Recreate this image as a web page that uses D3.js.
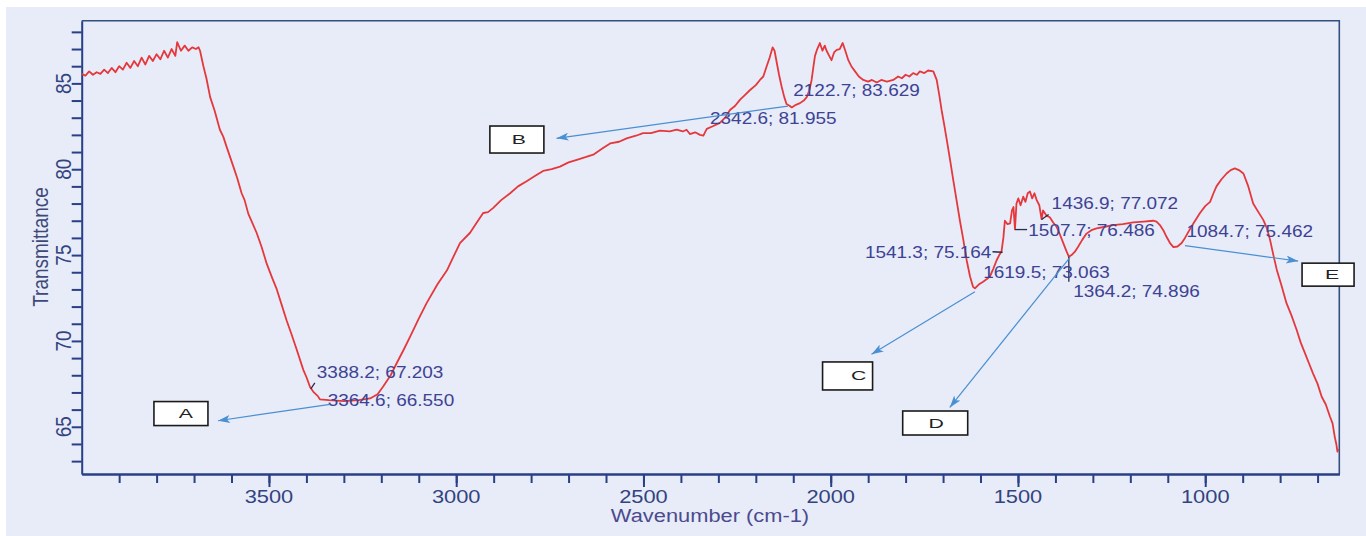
<!DOCTYPE html>
<html>
<head>
<meta charset="utf-8">
<script src="https://cdn.jsdelivr.net/npm/d3@7"></script>
<style>
  html, body { margin: 0; padding: 0; background: #ffffff; }
  svg { display: block; }
  text { font-family: "Liberation Sans", Arial, sans-serif; }
</style>
</head>
<body>
<svg id="chart" width="1366" height="536"></svg>
<script>
// ---------------- DATA ----------------
const wavenumber = [
  4000,3990,3980,3970,3960,3950,3940,3930,3920,3910,3900,3890,3880,3870,3860,3850,3840,3830,3820,3810,
  3800,3790,3780,3770,3760,3750,3745,3735,3725,3715,3705,3695,3688,3684,3675,3667,3657,3645,3631,3622,
  3613,3595,3585,3573,3565,3555,3545,3533,3520,3506,3492,3479,3466,3453,3440,3426,3408,3400,3390,3380,
  3370,3364,3340,3300,3260,3230,3210,3195,3175,3159,3140,3123,3100,3079,3050,3025,2990,2963,2945,2928,
  2915,2901,2880,2856,2835,2812,2790,2768,2745,2723,2700,2678,2655,2634,2610,2589,2565,2545,2520,2501,
  2480,2456,2430,2411,2395,2385,2376,2362,2349,2340,2331,2315,2296,2282,2269,2255,2242,2230,2216,2200,
  2189,2180,2171,2163,2155,2150,2144,2138,2131,2124,2118,2110,2104,2093,2082,2072,2064,2057,2051,2046,
  2042,2036,2029,2022,2016,2011,2004,1998,1991,1984,1976,1968,1961,1953,1945,1935,1925,1913,1900,1890,
  1877,1865,1850,1833,1820,1810,1800,1790,1780,1770,1762,1750,1740,1726,1717,1710,1704,1697,1690,1681,
  1673,1664,1655,1646,1637,1628,1620,1615,1604,1593,1583,1575,1566,1557,1550,1544,1539,1535,1528,1521,
  1516,1512,1508,1504,1499,1493,1486,1480,1474,1468,1462,1456,1450,1443,1437,1433,1424,1415,1406,1397,
  1388,1379,1370,1364,1357,1348,1339,1328,1317,1304,1290,1268,1246,1220,1192,1165,1139,1130,1121,1112,
  1103,1094,1085,1074,1063,1054,1045,1030,1014,1000,987,978,970,957,943,932,921,910,898,885,
  872,858,845,836,827,818,809,796,783,770,756,745,734,723,712,700,689,678,667,660,
  654,650,647,645
];
const transmittance = [
  85.55,85.45,85.7,85.5,85.65,85.55,85.8,85.6,85.9,85.65,86.0,85.8,86.2,85.9,86.3,86.0,86.5,86.1,86.6,86.3,
  86.7,86.4,86.9,86.5,87.0,86.6,87.4,86.9,87.2,86.9,87.1,87.0,87.1,86.9,86.0,85.3,84.2,83.4,82.3,81.9,
  81.3,80.15,79.5,78.6,78.2,77.4,76.9,76.3,75.5,74.5,73.7,73.0,72.1,71.2,70.4,69.5,68.3,67.9,67.3,67.0,
  66.8,66.6,66.55,66.5,66.55,66.65,66.9,67.35,68.0,68.7,69.5,70.25,71.3,72.2,73.3,74.1,75.7,76.3,76.9,77.45,
  77.5,77.75,78.2,78.6,79.0,79.3,79.6,79.9,80.0,80.15,80.4,80.55,80.7,80.85,81.2,81.5,81.6,81.8,81.95,82.1,
  82.1,82.25,82.2,82.3,82.2,82.3,82.05,82.15,82.0,81.96,82.35,82.5,82.7,83.0,83.45,83.7,84.05,84.3,84.6,84.9,
  85.2,85.4,86.0,86.5,87.1,86.9,86.2,85.5,84.8,84.2,83.8,83.7,83.6,83.75,83.85,84.0,84.2,84.6,85.2,86.0,
  86.6,87.0,87.35,86.9,87.2,86.9,86.6,86.35,86.8,86.95,87.0,87.35,86.9,86.35,86.0,85.7,85.4,85.2,85.1,85.2,
  85.05,85.2,85.1,85.2,85.4,85.3,85.5,85.4,85.6,85.5,85.7,85.6,85.75,85.7,85.2,84.3,83.45,82.6,81.7,80.5,
  79.4,78.2,77.0,75.9,74.7,73.75,73.15,73.06,73.3,73.45,73.6,73.75,74.2,74.7,75.0,75.2,76.0,77.0,76.8,76.85,
  77.6,77.8,76.5,78.0,78.3,77.9,78.4,78.1,78.6,78.7,78.3,78.6,78.2,77.9,77.1,77.6,77.3,77.2,76.9,76.65,
  76.2,75.7,75.2,74.9,75.0,75.2,75.5,75.9,76.25,76.45,76.55,76.65,76.75,76.8,76.9,76.95,77.0,76.95,76.75,76.45,
  76.05,75.7,75.46,75.5,75.7,76.0,76.35,76.9,77.45,77.85,78.1,78.6,79.0,79.4,79.75,79.95,80.05,79.95,79.75,79.0,
  78.0,77.5,77.05,76.6,75.9,75.0,74.15,73.2,72.2,71.5,70.65,69.9,69.3,68.7,68.1,67.5,66.75,66.3,65.6,65.2,
  64.4,64.0,63.55,63.7
];

const xMajorTicks = [3500, 3000, 2500, 2000, 1500, 1000];
const yMajorTicks = [65, 70, 75, 80, 85];

const peakLabels = ["3388.2; 67.203","3364.6; 66.550","2122.7; 83.629","2342.6; 81.955","1541.3; 75.164",
                    "1619.5; 73.063","1436.9; 77.072","1507.7; 76.486","1364.2; 74.896","1084.7; 75.462"];
const peakWn = [3388.2, 3364.6, 2122.7, 2342.6, 1541.3, 1619.5, 1436.9, 1507.7, 1364.2, 1084.7];
const peakT  = [67.203, 66.550, 83.629, 81.955, 75.164, 73.063, 77.072, 76.486, 74.896, 75.462];

const boxLetters = ["A", "B", "C", "D", "E"];
// callout geometry in data space: box centre, arrow start, arrow tip
const boxWn   = [3735, 2838, 1955, 1721, 672];
const boxT    = [65.77, 81.73, 67.96, 65.22, 73.86];
const arrowFromWn = [3337, 2114, 1615, 1361, 1054];
const arrowFromT  = [66.31, 83.68, 72.87, 74.87, 75.55];
const arrowToWn   = [3636, 2732, 1891, 1682, 752];
const arrowToT    = [65.35, 81.80, 69.22, 66.13, 74.65];

// ---------------- LAYOUT ----------------
const W = 1366, H = 536;
const plot = { left: 81.7, right: 1339.3, top: 20.7, bottom: 474 };
const SX = 1.15; // horizontal stretch of the scanned text
const labelOffsets = [[6,-10.6],[8,6],[8.5,-11],[7.6,-11.3],[-137.6,5.4],[10,-10.6],[10,-10.2],[13.2,6.4],[4.4,39.8],[13,-10.4]];
const leaderEnds = [[4,-6],[0,0],[0,0],[0,0],[-10,-0.5],[0,0],[7,-5],[12,0],[0,25],[0,0]];
const boxSizes = [[54,24],[54,27],[50,28],[65,24],[52,23]];
const letterDx = [5, 2, 11, 1, 4];

const svg = d3.select("#chart");
svg.append("rect").attr("x", 6).attr("y", 7).attr("width", W - 6).attr("height", H - 7)
   .attr("fill", "#e7ecf8");

const x = d3.scaleLinear().domain([4000, 642]).range([plot.left, plot.right]);
const y = d3.scaleLinear().domain([62.25, 88.65]).range([plot.bottom, plot.top]);

const axisColor = "#2a3f86";
const tickTextColor = "#33437f";

// frame (top & right)
svg.append("path")
   .attr("d", `M${plot.left},${plot.top}H${plot.right}V${plot.bottom}`)
   .attr("fill", "none").attr("stroke", "#34507f").attr("stroke-width", 1.6);

// x axis minor ticks
const xMinor = d3.range(3900, 650, -100);
const gxMinor = svg.append("g").attr("transform", `translate(0,${plot.bottom})`)
   .call(d3.axisBottom(x).tickValues(xMinor).tickSize(9).tickSizeOuter(0).tickFormat(""));
const gxMajor = svg.append("g").attr("transform", `translate(0,${plot.bottom})`)
   .call(d3.axisBottom(x).tickValues(xMajorTicks).tickSize(13).tickSizeOuter(0).tickFormat(""));
[gxMinor, gxMajor].forEach(g => {
  g.select(".domain").attr("stroke", axisColor).attr("stroke-width", 2);
  g.selectAll(".tick line").attr("stroke", axisColor).attr("stroke-width", 2);
});

// y axis ticks
const yMinor = d3.range(63, 89, 1);
const gy = svg.append("g").attr("transform", `translate(${plot.left},0)`)
   .call(d3.axisLeft(y).tickValues(yMinor).tickSize(10).tickSizeOuter(0).tickFormat(""));
gy.select(".domain").attr("stroke", axisColor).attr("stroke-width", 2);
gy.selectAll(".tick line").attr("stroke", axisColor).attr("stroke-width", 2);

// x tick labels
svg.append("g").selectAll("text").data(xMajorTicks).join("text")
   .attr("transform", d => `translate(${x(d)},503) scale(${SX},1)`)
   .attr("text-anchor", "middle").attr("font-size", 19).attr("fill", tickTextColor)
   .text(d => d);

// y tick labels (rotated)
svg.append("g").selectAll("text").data(yMajorTicks).join("text")
   .attr("transform", d => `translate(70.5,${y(d)}) scale(${SX},1) rotate(-90)`)
   .attr("text-anchor", "middle").attr("font-size", 19).attr("fill", tickTextColor)
   .text(d => d);

// axis titles
svg.append("text")
   .attr("transform", `translate(48,247) scale(${SX},1) rotate(-90)`)
   .attr("text-anchor", "middle").attr("font-size", 19).attr("fill", "#3d4a78")
   .text("Transmittance");
svg.append("text")
   .attr("transform", `translate(710,522) scale(${SX},1)`)
   .attr("text-anchor", "middle").attr("font-size", 19).attr("fill", "#4c4a8e")
   .text("Wavenumber (cm-1)");

// spectrum
const line = d3.line().x(d => x(d[0])).y(d => y(d[1]));
svg.append("path")
   .datum(d3.zip(wavenumber, transmittance))
   .attr("d", line)
   .attr("fill", "none").attr("stroke", "#e5383c").attr("stroke-width", 1.8)
   .attr("stroke-linejoin", "round");

// arrow marker
const defs = svg.append("defs");
defs.append("marker").attr("id", "ah")
   .attr("viewBox", "0 0 12 8").attr("refX", 12).attr("refY", 4)
   .attr("markerWidth", 13).attr("markerHeight", 8).attr("markerUnits", "userSpaceOnUse")
   .attr("orient", "auto")
   .append("path").attr("d", "M0,0L12,4L0,8L3,4Z").attr("fill", "#4a8fd2");

// peak leaders and labels
const peaks = peakLabels.map((t, i) => ({ t, px: x(peakWn[i]), py: y(peakT[i]), i }));
svg.append("g").selectAll("line").data(peaks.filter(p => leaderEnds[p.i][0] || leaderEnds[p.i][1])).join("line")
   .attr("x1", p => p.px).attr("y1", p => p.py)
   .attr("x2", p => p.px + leaderEnds[p.i][0]).attr("y2", p => p.py + leaderEnds[p.i][1])
   .attr("stroke", "#2a2a4a").attr("stroke-width", 1.3);
svg.append("g").selectAll("text").data(peaks).join("text")
   .attr("transform", p => `translate(${p.px + labelOffsets[p.i][0]},${p.py + labelOffsets[p.i][1]}) scale(${SX},1)`)
   .attr("font-size", 16.5).attr("fill", "#3e4293")
   .text(p => p.t);

// callout arrows
svg.append("g").selectAll("line").data(boxLetters).join("line")
   .attr("x1", (d, i) => x(arrowFromWn[i])).attr("y1", (d, i) => y(arrowFromT[i]))
   .attr("x2", (d, i) => x(arrowToWn[i])).attr("y2", (d, i) => y(arrowToT[i]))
   .attr("stroke", "#4a8fd2").attr("stroke-width", 1.2)
   .attr("marker-end", "url(#ah)");

// callout boxes
const boxes = svg.append("g").selectAll("g").data(boxLetters).join("g")
   .attr("transform", (d, i) => `translate(${x(boxWn[i])},${y(boxT[i])})`);
boxes.append("rect")
   .attr("x", (d, i) => -boxSizes[i][0] / 2).attr("y", (d, i) => -boxSizes[i][1] / 2)
   .attr("width", (d, i) => boxSizes[i][0]).attr("height", (d, i) => boxSizes[i][1])
   .attr("fill", "#ffffff").attr("stroke", "#1a1a1a").attr("stroke-width", 1.6);
boxes.append("text")
   .attr("transform", (d, i) => `translate(${letterDx[i]},4.5) scale(1.7,1)`)
   .attr("text-anchor", "middle").attr("font-size", 12.5).attr("fill", "#222")
   .text(d => d);
</script>
</body>
</html>
